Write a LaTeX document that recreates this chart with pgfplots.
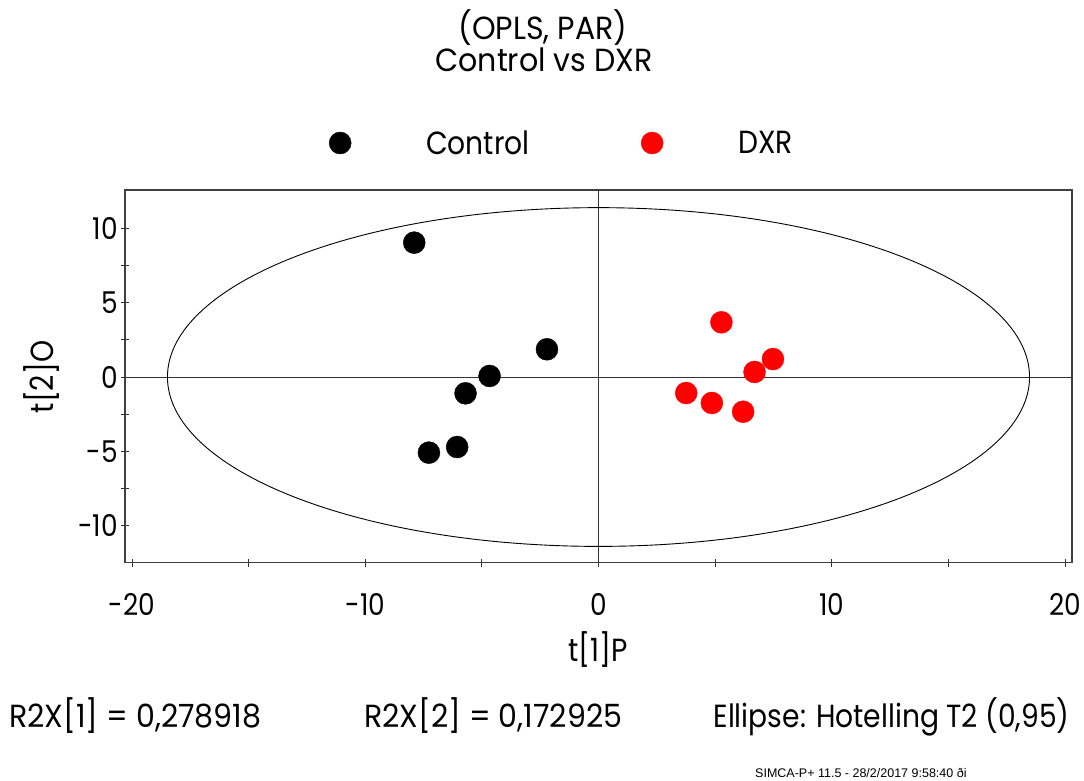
\documentclass[border=0pt]{standalone}
\usepackage{pgfplots}
\pgfplotsset{compat=1.18}
\usepackage{fontspec}
\setmainfont{Poppins}[FakeStretch=0.88]
\newfontfamily\widefont{Poppins}[FakeStretch=0.94]
\newfontfamily\footfont{Liberation Sans}
\newcommand{\bigtxt}{\fontsize{32}{38}\selectfont}
\pgfplotsset{dotlegend/.style={legend image code/.code={\path[draw=none,fill=none] (-11pt,-11pt) rectangle (86pt,11pt); \draw[mark repeat=1,##1] plot coordinates {(0pt,0pt)};}}}
\begin{document}
\begin{tikzpicture}[x=1pt,y=1pt]
\path[use as bounding box] (0,0) rectangle (1084,780);
\begin{axis}[
  at={(125pt,217.3pt)}, anchor=south west,
  scale only axis, width=947pt, height=372.7pt,
  xmin=-20.3, xmax=20.3, ymin=-12.52, ymax=12.61,
  xtick={-20,-10,0,10,20}, ytick={-10,-5,0,5,10},
  minor xtick={-15,-5,5,15}, minor ytick={-7.5,-2.5,2.5,7.5},
  xtick pos=bottom, ytick pos=left,
  tick align=center, major tick length=8pt, minor tick length=8pt,
  tick style={black!80, line width=0.9pt},
  axis line style={line width=1.3pt, color=black!75},
  /pgf/number format/assume math mode=true,
  ticklabel style={font=\fontsize{30}{36}\selectfont},
  xticklabel style={anchor=base, yshift=-49pt},
  yticklabel style={anchor=east, inner xsep=0pt, xshift=-3pt},
  legend style={at={(0.2154,1.1261)}, anchor=west, draw=none, fill=none,
    font=\bigtxt, inner sep=0pt,
    nodes={inner xsep=0pt, text width=215pt, align=left},
    /tikz/every even column/.append style={column sep=0pt},
    /tikz/every odd column/.append style={column sep=0pt}},
  legend cell align=left,
  legend columns=2,
]
\draw[black!80, line width=0.9pt] (axis cs:-20.3,0) -- (axis cs:20.3,0);
\draw[black!80, line width=0.9pt] (axis cs:0,-12.52) -- (axis cs:0,12.61);
\draw[black, line width=0.9pt] (axis cs:0,0) ellipse [x radius=18.48, y radius=11.42];
\addplot[only marks, mark=*, mark size=11pt, black, mark options={draw=black, fill=black}, dotlegend]
  coordinates {(-7.90,9.06) (-2.21,1.87) (-4.67,0.07) (-5.70,-1.10) (-6.06,-4.72) (-7.27,-5.10)};
\addlegendentry{Control}
\addplot[only marks, mark=*, mark size=11pt, red, mark options={draw=red, fill=red}, dotlegend]
  coordinates {(5.27,3.69) (7.48,1.21) (6.69,0.34) (3.76,-1.08) (4.86,-1.75) (6.20,-2.34)};
\addlegendentry{DXR}
\end{axis}
\node[anchor=base, font=\widefont\bigtxt] at (543,740) {(OPLS, PAR)};
\node[anchor=base, font=\widefont\bigtxt] at (544,708) {Control vs DXR};
\node[anchor=base, font=\bigtxt] at (598,119) {t[1]P};
\node[anchor=base, rotate=90, font=\bigtxt] at (53,403) {t[2]O};
\node[anchor=base west, inner sep=0pt, font=\widefont\bigtxt] at (9,53) {R2X[1] = 0,278918};
\node[anchor=base west, inner sep=0pt, font=\widefont\bigtxt] at (364,53) {R2X[2] = 0,172925};
\node[anchor=base east, inner sep=0pt, font=\bigtxt] at (1070,53) {Ellipse: Hotelling T2 (0,95)};
\node[anchor=base west, inner sep=0pt, font=\footfont\fontsize{12.5}{15}\selectfont] at (755,3) {SIMCA-P+ 11.5 - 28/2/2017 9:58:40 ði};
\end{tikzpicture}
\end{document}
